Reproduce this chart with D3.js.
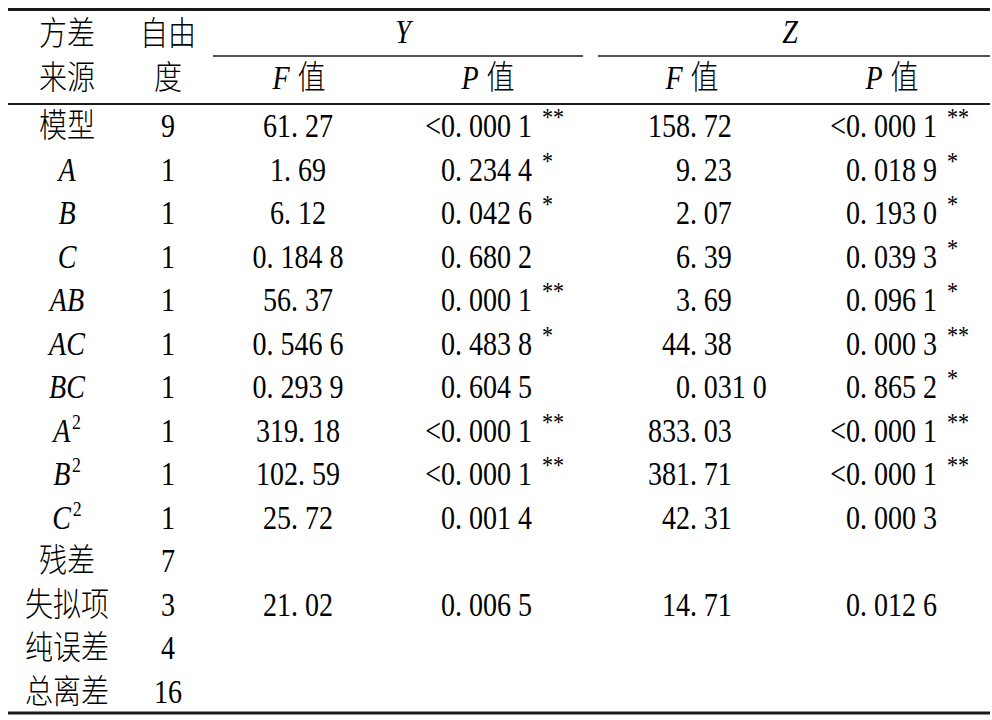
<!DOCTYPE html>
<html>
<head>
<meta charset="utf-8">
<script src="https://cdn.jsdelivr.net/npm/d3@7"></script>
<style>
  html, body { margin: 0; padding: 0; background: #fff; }
  svg { display: block; }
</style>
</head>
<body>
<svg id="chart" width="992" height="720"></svg>
<script>
// ---- data ----
const sources = ["模型", "A", "B", "C", "AB", "AC", "BC", "A²", "B²", "C²", "残差", "失拟项", "纯误差", "总离差"];
const df      = ["9", "1", "1", "1", "1", "1", "1", "1", "1", "1", "7", "3", "4", "16"];
const yF      = ["61.27", "1.69", "6.12", "0.184 8", "56.37", "0.546 6", "0.293 9", "319.18", "102.59", "25.72", "", "21.02", "", ""];
const yP      = ["<0.000 1", "0.234 4", "0.042 6", "0.680 2", "0.000 1", "0.483 8", "0.604 5", "<0.000 1", "<0.000 1", "0.001 4", "", "0.006 5", "", ""];
const ySig    = ["**", "*", "*", "", "**", "*", "", "**", "**", "", "", "", "", ""];
const zF      = ["158.72", "9.23", "2.07", "6.39", "3.69", "44.38", "0.031 0", "833.03", "381.71", "42.31", "", "14.71", "", ""];
const zP      = ["<0.000 1", "0.018 9", "0.193 0", "0.039 3", "0.096 1", "0.000 3", "0.865 2", "<0.000 1", "<0.000 1", "0.000 3", "", "0.012 6", "", ""];
const zSig    = ["**", "*", "*", "*", "*", "**", "*", "**", "**", "", "", "", "", ""];
const headerTop    = ["方差", "自由"];
const headerBottom = ["来源", "度", "F|值", "P|值", "F|值", "P|值"];
const groups       = ["Y", "Z"];

// ---- layout ----
const FONT = "'Liberation Serif', 'Noto Sans CJK SC', serif";
const FS = 33, SX = 0.85;
const svg = d3.select("#chart");
const colKeys = ["src", "df", "yF", "yP", "zF", "zP"];
const anchorX = d3.scaleOrdinal().domain(colKeys).range([67, 168, 298, 532, 690, 937]);
const headX   = d3.scaleOrdinal().domain(colKeys).range([67, 168, 299, 488, 692, 892]);
const groupX  = d3.scaleOrdinal().domain(groups).range([[213, 583], [598, 990]]);
const groupLabelX = d3.scaleOrdinal().domain(groups).range([403, 790]);
const rowY = d3.scalePoint().domain(d3.range(sources.length)).range([137, 703]);
const lineColor = "#1a1a1a";
const DEC_GAP = 8;

function cell(x, y) {
  return svg.append("g").attr("transform", `translate(${x},${y}) scale(${SX},1)`)
    .attr("font-family", FONT).attr("font-size", FS).attr("font-weight", 300).attr("fill", "#000");
}
function addNum(t, s) {
  const i = s.indexOf(".");
  if (i < 0) { t.append("tspan").text(s); return; }
  t.append("tspan").text(s.slice(0, i + 1));
  t.append("tspan").attr("dx", DEC_GAP).text(s.slice(i + 1));
}
function addLabel(t, s) {
  const m = s.match(/^([A-Z]+)(²?)$/);
  if (m) {
    t.append("tspan").attr("font-style", "italic").text(m[1]);
    if (m[2]) t.append("tspan").attr("font-size", 21).attr("dy", -13).attr("dx", 2).text("2");
  } else {
    t.text(s);
  }
}
function sig(x, y, s) {
  if (!s) return;
  cell(x, y).append("text").attr("x", 0).attr("y", -11).attr("font-size", 26)
    .attr("text-anchor", "start").text(s);
}

// ---- rules ----
const hline = (x1, x2, y, w) => svg.append("line")
  .attr("x1", x1).attr("x2", x2).attr("y1", y).attr("y2", y)
  .attr("stroke", lineColor).attr("stroke-width", w);
hline(8, 990, 9.5, 3);
groups.forEach(g => hline(groupX(g)[0], groupX(g)[1], 56, 1.6));
hline(8, 990, 104, 2);
hline(8, 990, 713, 3.2);

// ---- header ----
headerTop.forEach((h, i) => {
  cell(headX(colKeys[i]), 45).append("text").attr("text-anchor", "middle").text(h);
});
groups.forEach(g => {
  cell(groupLabelX(g), 43).append("text").attr("text-anchor", "middle")
    .attr("font-style", "italic").text(g);
});
headerBottom.forEach((h, i) => {
  const t = cell(headX(colKeys[i]), 89).append("text").attr("text-anchor", "middle");
  if (h.includes("|")) {
    const [a, b] = h.split("|");
    t.append("tspan").attr("font-style", "italic").text(a);
    t.append("tspan").attr("dx", 9).text(b);
  } else t.text(h);
});

// ---- body ----
sources.forEach((s, i) => {
  const y = rowY(i);
  addLabel(cell(anchorX("src"), y).append("text").attr("text-anchor", "middle"), s);
  cell(anchorX("df"), y).append("text").attr("text-anchor", "middle").text(df[i]);

  if (yF[i]) addNum(cell(anchorX("yF"), y).append("text").attr("text-anchor", "middle"), yF[i]);
  if (yP[i]) {
    addNum(cell(anchorX("yP"), y).append("text").attr("text-anchor", "end"), yP[i]);
    sig(anchorX("yP") + 10, y, ySig[i]);
  }
  if (zF[i]) {
    const k = zF[i].indexOf(".");
    const g = cell(anchorX("zF"), y);
    g.append("text").attr("text-anchor", "end").text(zF[i].slice(0, k));
    const t = g.append("text").attr("text-anchor", "start");
    t.append("tspan").text(".");
    t.append("tspan").attr("dx", DEC_GAP).text(zF[i].slice(k + 1));
  }
  if (zP[i]) {
    addNum(cell(anchorX("zP"), y).append("text").attr("text-anchor", "end"), zP[i]);
    sig(anchorX("zP") + 10, y, zSig[i]);
  }
});
</script>
</body>
</html>
